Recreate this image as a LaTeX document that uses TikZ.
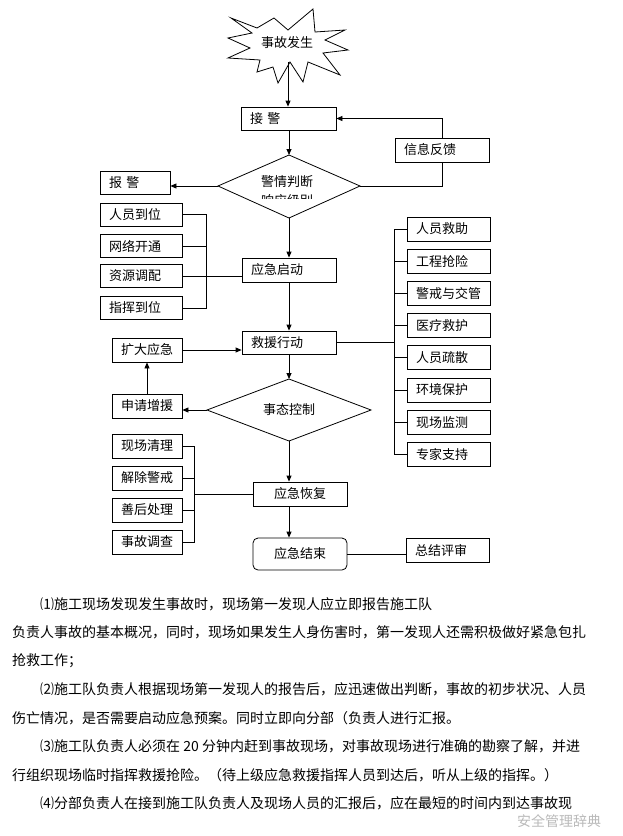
\documentclass[tikz,border=0pt]{standalone}
\usepackage{fontspec}
\setmainfont{Noto Sans CJK SC}
\usetikzlibrary{arrows.meta}
\begin{document}
\begin{tikzpicture}[x=1pt,y=-1pt,
  bx/.style={draw, line width=0.8pt, inner xsep=9pt, inner ysep=0pt, minimum height=23pt, align=left, font=\fontsize{13}{15}\selectfont},
  bxc/.style={bx, align=center},
  ln/.style={line width=0.8pt},
  ar/.style={line width=0.8pt, -{Triangle[length=6pt,width=5pt]}},
  lbl/.style={inner sep=0pt, font=\fontsize{13}{15}\selectfont},
  para/.style={anchor=west, inner sep=0pt, font=\fontsize{14}{16}\selectfont}]
\useasboundingbox (0,0) rectangle (623,836);
% star
\draw[ln, fill=white] (231,18) -- (257,28) -- (274,18) -- (288,30) -- (313,9) -- (315,32) -- (345,30) -- (325,40) -- (348,50) -- (323,53) -- (340,75) -- (308,62) -- (303,82) -- (290,62) -- (278,83) -- (273,67) -- (257,72) -- (260,60) -- (228,58) -- (250,48) -- (228,38) -- (252,33) -- cycle;
\node[lbl] (star) at (287,43) {事故发生};
\coordinate (st) at (288,62);
% top boxes
\node[bx, text width=77pt] (jj) at (288.5,118.5) {接 警};
\node[bx, text width=76pt, minimum height=24pt] (xx) at (442,150) {信息反馈};
\node[bx, text width=52pt] (bj) at (135,182.5) {报 警};
% diamond 1
\coordinate (d1t) at (289,155);
\coordinate (d1r) at (360,186);
\coordinate (d1b) at (289,218);
\coordinate (d1l) at (218,186);
\draw[ln] (d1t) -- (d1r) -- (d1b) -- (d1l) -- cycle;
\node[lbl] (d1a) at (287,182) {警情判断};
\begin{scope}
\clip (230,150) rectangle (350,198);
\node[lbl] (d1c) at (287,201) {响应级别};
\end{scope}
% left column 1
\node[bx, text width=64pt] (ry) at (141,214.5) {人员到位};
\node[bx, text width=64pt] (wl) at (141,246) {网络开通};
\node[bx, text width=64pt] (zy) at (141,276) {资源调配};
\node[bx, text width=64pt] (zh) at (141,308) {指挥到位};
\node[bx, text width=76pt, minimum height=24pt] (qd) at (289,270) {应急启动};
\coordinate (b1) at (206,0);
\draw[ln] (ry.east) -- (ry.east -| b1) |- (zh.east);
\draw[ln] (wl.east) -- (wl.east -| b1);
\draw[ln] (zy.east) -- (zy.east -| qd.west);
% rescue
\node[bx, text width=76pt] (jy) at (289,342.5) {救援行动};
\node[bx, text width=52pt, minimum height=24pt] (kd) at (147,350) {扩大应急};
\node[bx, text width=52pt, minimum height=24pt] (sq) at (147,406) {申请增援};
% diamond 2
\coordinate (d2t) at (289,379);
\coordinate (d2r) at (371,410);
\coordinate (d2b) at (289,441);
\coordinate (d2l) at (207,410);
\draw[ln] (d2t) -- (d2r) -- (d2b) -- (d2l) -- cycle;
\node[lbl] (d2a) at (289,410) {事态控制};
% right column
\node[bx, text width=65pt, minimum height=24pt] (r1) at (448.5,229) {人员救助};
\node[bx, text width=65pt, minimum height=24pt] (r2) at (448.5,261.2) {工程抢险};
\node[bx, text width=65pt, minimum height=24pt] (r3) at (448.5,293.4) {警戒与交管};
\node[bx, text width=65pt, minimum height=24pt] (r4) at (448.5,325.6) {医疗救护};
\node[bx, text width=65pt, minimum height=24pt] (r5) at (448.5,357.8) {人员疏散};
\node[bx, text width=65pt, minimum height=24pt] (r6) at (448.5,390) {环境保护};
\node[bx, text width=65pt, minimum height=24pt] (r7) at (448.5,422.3) {现场监测};
\node[bx, text width=65pt, minimum height=24pt] (r8) at (448.5,454.5) {专家支持};
\coordinate (b2) at (394,0);
\draw[ln] (r1.west) -- (r1.west -| b2) |- (r8.west);
\foreach \r in {r2,r3,r4,r5,r6,r7} \draw[ln] (\r.west) -- (\r.west -| b2);
\draw[ln] (jy.east) -- (jy.east -| b2);
% left column 3
\node[bx, text width=52pt, minimum height=24pt] (xc) at (147,446) {现场清理};
\node[bx, text width=52pt, minimum height=24pt] (jc) at (147,478) {解除警戒};
\node[bx, text width=52pt, minimum height=24pt] (sh) at (147,510) {善后处理};
\node[bx, text width=52pt, minimum height=24pt] (sg) at (147,542) {事故调查};
\node[bxc, text width=76pt, minimum height=24pt] (hf) at (300,494) {应急恢复};
\node[bxc, text width=76pt, minimum height=32pt, rounded corners=5pt] (js) at (300,554) {应急结束};
\node[bx, text width=65pt, minimum height=24pt] (zj) at (447.5,550) {总结评审};
\coordinate (b3) at (194,0);
\draw[ln] (xc.east) -- (xc.east -| b3) |- (sg.east);
\draw[ln] (jc.east) -- (jc.east -| b3);
\draw[ln] (sh.east) -- (sh.east -| b3);
\draw[ln] (hf.west -| b3) -- (hf.west);
% arrows
\draw[ar] (st) -- (st |- jj.north);
\draw[ar] (d1t |- jj.south) -- (d1t);
\draw[ar] (xx.north) |- (jj.east);
\draw[ln] (d1r) -| (xx.south);
\draw[ar] (d1l) -- (d1l -| bj.east);
\draw[ar] (d1b) -- (d1b |- qd.north);
\draw[ar] (d1b |- qd.south) -- (d1b |- jy.north);
\draw[ar] (kd.east) -- (kd.east -| jy.west);
\draw[ar] (d1b |- jy.south) -- (d2t);
\draw[ar] (d2l) -- (d2l -| sq.east);
\draw[ar] (sq.north) -- (kd.south);
\draw[ar] (d2b) -- (d2b |- hf.north);
\draw[ar] (d2b |- hf.south) -- (d2b |- js.north);
\draw[ln] (js.east) -- (js.east -| zj.west);
% paragraphs
\node[para] (p1) at (40,604) {⑴施工现场发现发生事故时，现场第一发现人应立即报告施工队};
\node[para] (p2) at (12,632.5) {负责人事故的基本概况，同时，现场如果发生人身伤害时，第一发现人还需积极做好紧急包扎};
\node[para] (p3) at (12,661) {抢救工作；};
\node[para] (p4) at (40,689.5) {⑵施工队负责人根据现场第一发现人的报告后，应迅速做出判断，事故的初步状况、人员};
\node[para] (p5) at (12,718) {伤亡情况，是否需要启动应急预案。同时立即向分部（负责人进行汇报。};
\node[para] (p6) at (40,746.5) {⑶施工队负责人必须在 20 分钟内赶到事故现场，对事故现场进行准确的勘察了解，并进};
\node[para] (p7) at (12,775) {行组织现场临时指挥救援抢险。（待上级应急救援指挥人员到达后，听从上级的指挥。）};
\node[para] (p8) at (40,803.5) {⑷分部负责人在接到施工队负责人及现场人员的汇报后，应在最短的时间内到达事故现};
\node[para, text=gray!55] (wm) at (517,821) {安全管理辞典};
\end{tikzpicture}
\end{document}
